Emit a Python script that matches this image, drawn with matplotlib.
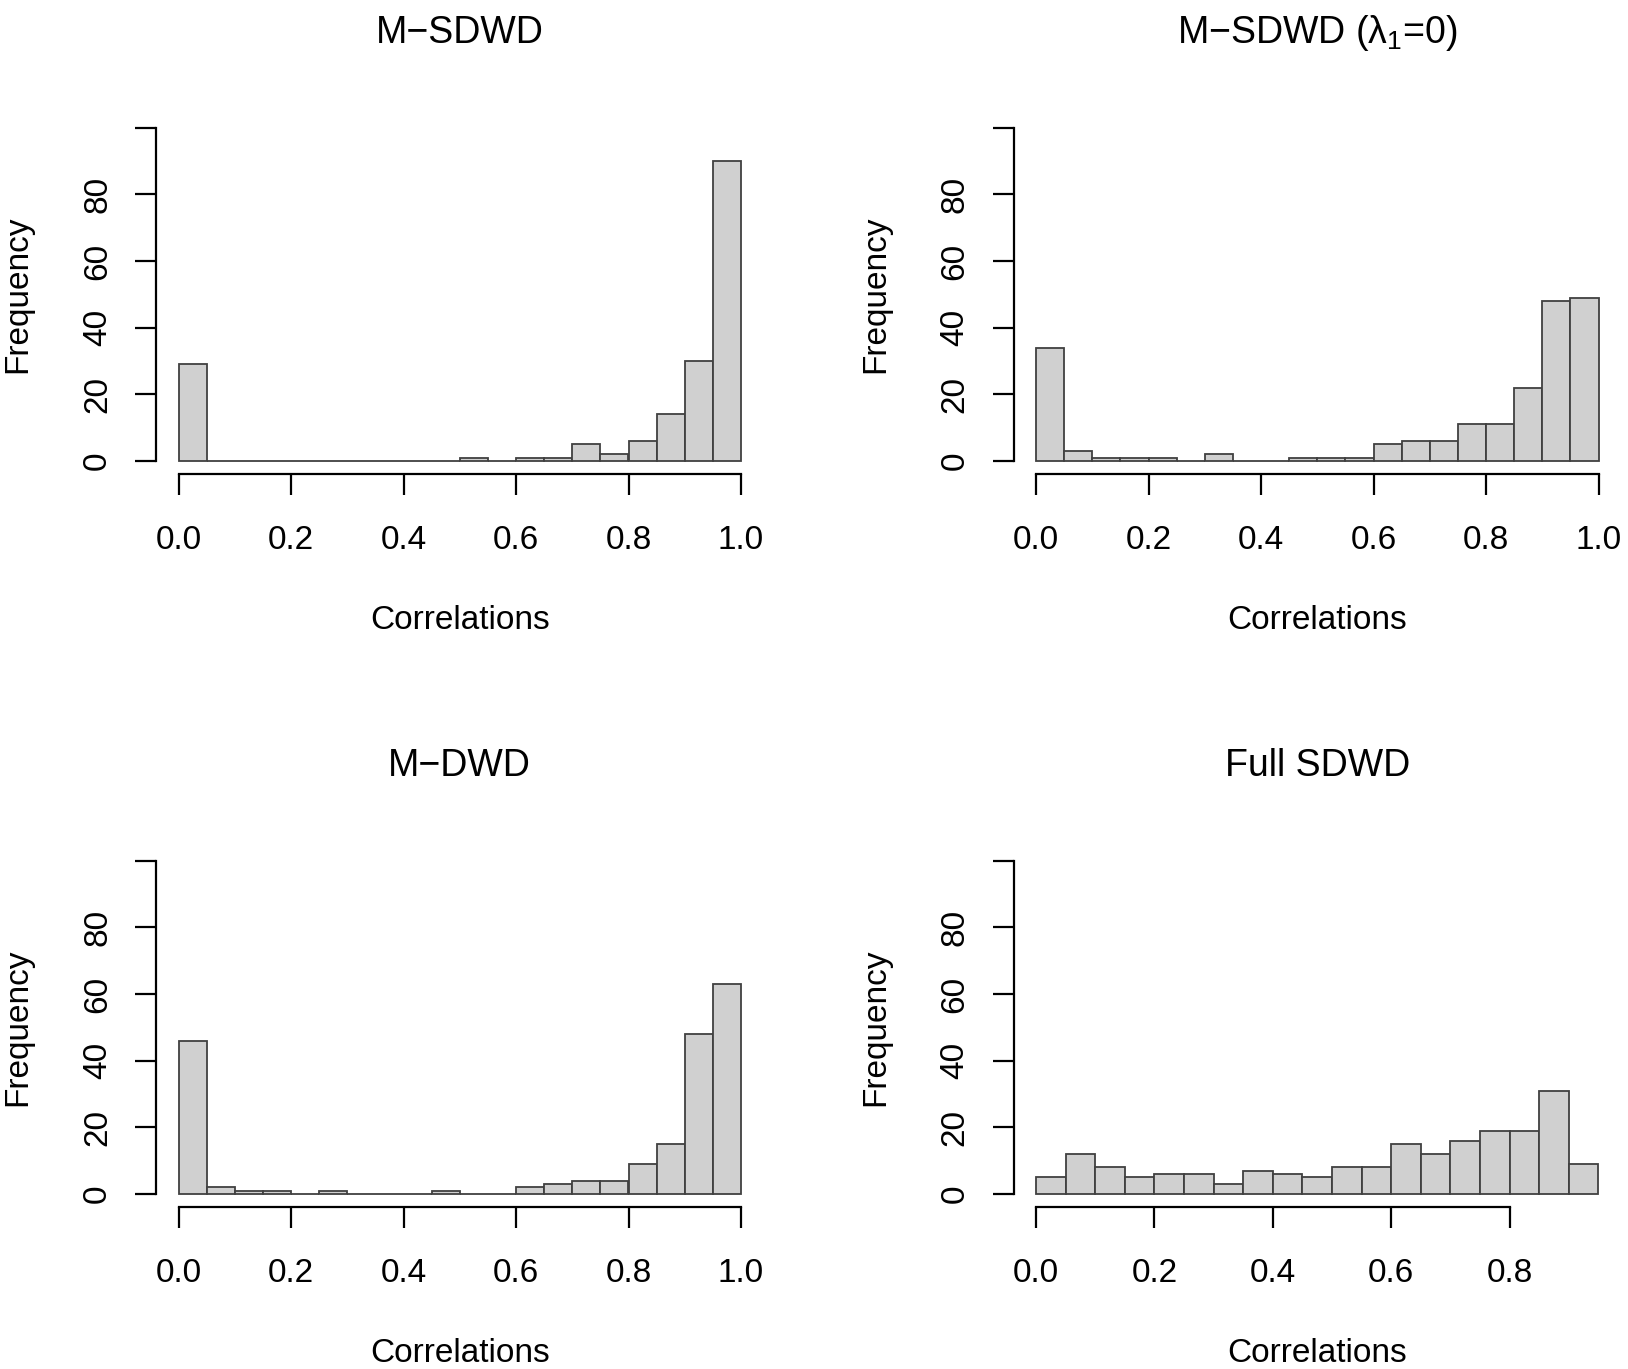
import numpy as np
import matplotlib
matplotlib.use('Agg')
import matplotlib.pyplot as plt

plt.rcParams['font.family'] = ['Liberation Sans', 'DejaVu Sans']
plt.rcParams['mathtext.fontset'] = 'custom'
plt.rcParams['mathtext.rm'] = 'Liberation Sans'
plt.rcParams['mathtext.it'] = 'Liberation Sans'
plt.rcParams['mathtext.default'] = 'regular'

# ---- data (histogram counts, bins of width 0.05 starting at 0) ----
titles = ['M−SDWD', r'M−SDWD ($\lambda_1$=0)', 'M−DWD', 'Full SDWD']
bin_width = 0.05
counts_msdwd = [29, 0, 0, 0, 0, 0, 0, 0, 0, 0, 1, 0, 1, 1, 5, 2, 6, 14, 30, 90]
counts_msdwd_l0 = [34, 3, 1, 1, 1, 0, 2, 0, 0, 1, 1, 1, 5, 6, 6, 11, 11, 22, 48, 49]
counts_mdwd = [46, 2, 1, 1, 0, 1, 0, 0, 0, 1, 0, 0, 2, 3, 4, 4, 9, 15, 48, 63]
counts_full = [5, 12, 8, 5, 6, 6, 3, 7, 6, 5, 8, 8, 15, 12, 16, 19, 19, 31, 9]
xticks_a = [0.0, 0.2, 0.4, 0.6, 0.8, 1.0]
xticks_b = [0.0, 0.2, 0.4, 0.6, 0.8]
yticks = [0, 20, 40, 60, 80, 100]
ytick_labels = ['0', '20', '40', '60', '80', '']
xlabel = 'Correlations'
ylabel = 'Frequency'

panels = [
    (counts_msdwd, xticks_a),
    (counts_msdwd_l0, xticks_a),
    (counts_mdwd, xticks_a),
    (counts_full, xticks_b),
]

W, H = 1628, 1369
fig = plt.figure(figsize=(W / 100, H / 100), dpi=100)

ax_w, ax_h = 607.5, 360.0
lefts = [156.0, 1013.5, 156.0, 1013.5]
bottoms = [474.3, 474.3, 1207.3, 1207.3]

TFS = 27
FS = 24
for i, (counts, xt) in enumerate(panels):
    l, b = lefts[i], bottoms[i]
    ax = fig.add_axes([l / W, 1 - b / H, ax_w / W, ax_h / H])
    n = len(counts)
    edges = np.arange(n + 1) * bin_width
    ax.bar(edges[:-1], counts, width=bin_width, align='edge',
           color='#d0d0d0', edgecolor='#404040', linewidth=1.3)
    lo, hi = edges[0], edges[-1]
    ext = 0.04 * (hi - lo)
    ax.set_xlim(lo - ext, hi + ext)
    ax.set_ylim(-4, 104)
    for s in ['top', 'right']:
        ax.spines[s].set_visible(False)
    for s in ['left', 'bottom']:
        ax.spines[s].set_linewidth(1.6)
    ax.spines['left'].set_bounds(0, 100)
    ax.spines['bottom'].set_bounds(xt[0], xt[-1])
    ax.set_xticks(xt)
    ax.set_xticklabels(['%.1f' % v for v in xt], fontsize=FS, va='center')
    ax.set_yticks(yticks)
    ax.set_yticklabels(ytick_labels, fontsize=FS, rotation=90, va='center', ha='center')
    ax.tick_params(axis='x', direction='out', length=15, width=1.6, pad=33)
    ax.tick_params(axis='y', direction='out', length=15, width=1.6, pad=27)
    ax.set_xlabel(xlabel, fontsize=FS, va='center')
    ax.xaxis.set_label_coords(0.5, -0.407)
    ax.set_ylabel(ylabel, fontsize=FS, va='center')
    ax.yaxis.set_label_coords(-0.227, 0.5)
    ax.text(0.5, 1.226, titles[i], transform=ax.transAxes, ha='center',
            va='center', fontsize=TFS)

fig.savefig('out.png', dpi=100)
